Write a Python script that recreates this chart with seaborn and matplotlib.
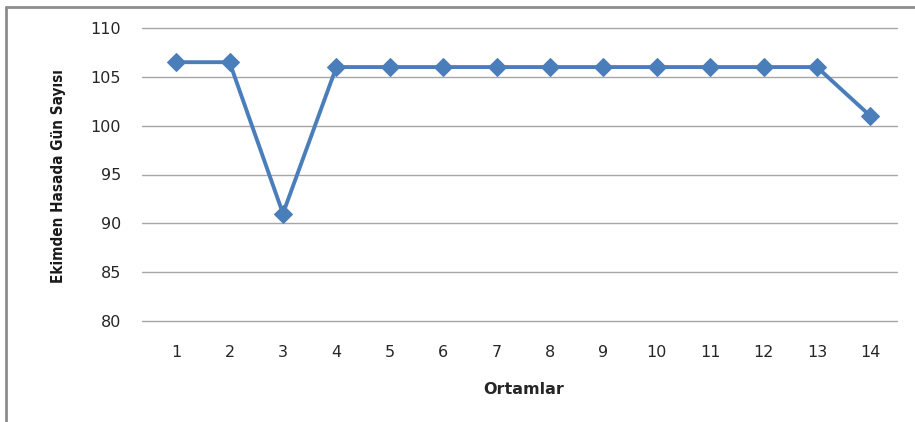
import matplotlib
matplotlib.use("Agg")
import matplotlib.pyplot as plt
import seaborn as sns
import pandas as pd
from matplotlib.lines import Line2D

ortamlar = [1, 2, 3, 4, 5, 6, 7, 8, 9, 10, 11, 12, 13, 14]
gun_sayisi = [106.5, 106.5, 91, 106, 106, 106, 106, 106, 106, 106, 106, 106, 106, 101]
y_ticks = [80, 85, 90, 95, 100, 105, 110]

df = pd.DataFrame({"Ortamlar": ortamlar, "Gun": gun_sayisi})

sns.set_style("white")
plt.rcParams["font.family"] = ["DejaVu Sans"]

fig = plt.figure(figsize=(9.15, 4.22), dpi=100)
ax = fig.add_axes([142 / 915, 1 - 321 / 422, (897 - 142) / 915, (321 - 28) / 422])

sns.lineplot(data=df, x="Ortamlar", y="Gun", ax=ax, color="#4A7EBB",
             linewidth=2.8, marker="D", markersize=9.5, markeredgecolor="#4A7EBB",
             zorder=3)

ax.set_ylim(80, 110)
ax.set_xlim(0.36, 14.5)
ax.set_yticks(y_ticks)
ax.set_xticks(ortamlar)
ax.set_xticklabels([str(v) for v in ortamlar])
ax.yaxis.grid(True, color="#A6A6A6", linewidth=1.0)
ax.xaxis.grid(False)
for gl in ax.get_ygridlines():
    gl.set_clip_on(False)
for s in ax.spines.values():
    s.set_visible(False)
ax.tick_params(axis="both", length=0, labelsize=11.5, labelcolor="#262626")
ax.tick_params(axis="y", pad=15)
ax.tick_params(axis="x", pad=17)

ax.set_xlabel("")
ax.set_ylabel("")
fig.text(0.5 * (142 + 897) / 915 + 0.005, 1 - 390 / 422, "Ortamlar", ha="center", va="center",
         fontsize=11.5, fontweight="bold", color="#262626")
fig.text(58 / 915, 1 - 176 / 422, "Ekimden Hasada Gün Sayısı", ha="center", va="center",
         rotation=90, fontsize=11, fontweight="bold", fontstretch="condensed",
         family="DejaVu Sans", color="#1a1a1a")

# outer frame (left and top edges)
fig.add_artist(Line2D([6 / 915, 6 / 915], [0, 1 - 7 / 422], transform=fig.transFigure,
                      color="#8C8C8C", linewidth=2))
fig.add_artist(Line2D([6 / 915, 1], [1 - 7 / 422, 1 - 7 / 422], transform=fig.transFigure,
                      color="#8C8C8C", linewidth=2))

fig.savefig("out.png", dpi=100)
